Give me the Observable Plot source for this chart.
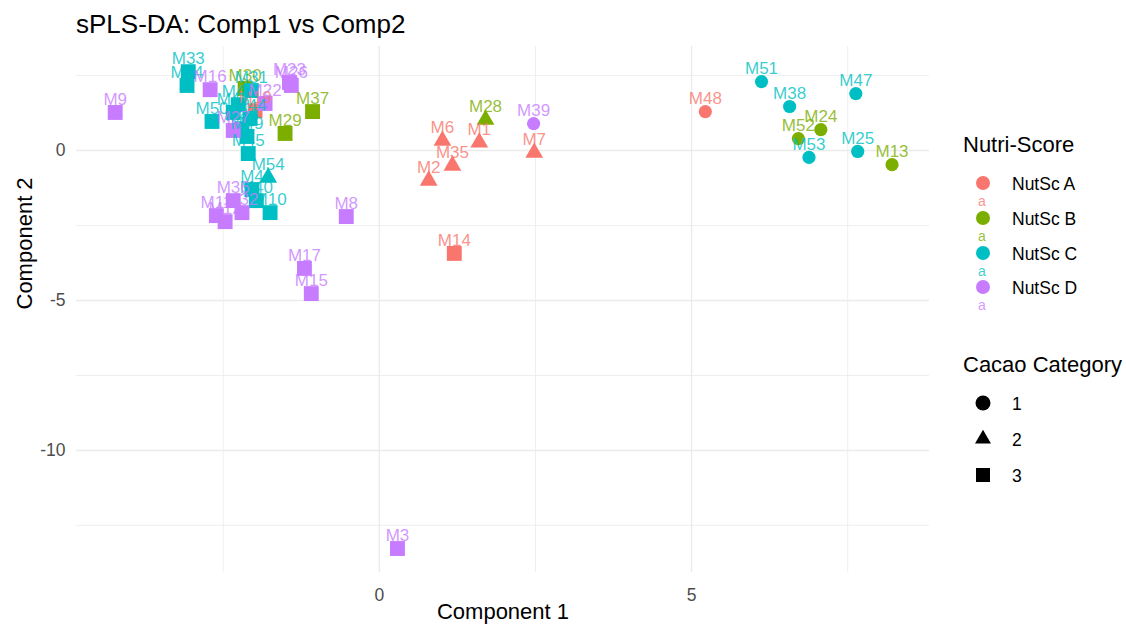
<!DOCTYPE html>
<html>
<head>
<meta charset="utf-8">
<script src="https://cdn.jsdelivr.net/npm/d3@7"></script>
<script src="https://cdn.jsdelivr.net/npm/@observablehq/plot@0.6"></script>
<style>
  body { margin: 0; background: #fff; font-family: "Liberation Sans", Arial, sans-serif; }
  #wrap { position: relative; width: 1126px; height: 627px; overflow: hidden; background: #fff; }
  #chart { position: absolute; left: 0; top: 0; }
  #title { position: absolute; left: 76px; top: 9px; font-size: 26px; line-height: 30px; color: #000; white-space: nowrap; }
  .lg { position: absolute; white-space: nowrap; color: #000; }
  .lgTitle { font-size: 22px; line-height: 22px; }
  .lgLab { font-size: 17.5px; line-height: 18px; }
  .lgA { font-size: 14px; line-height: 14px; }
</style>
</head>
<body>
<div id="wrap">
  <div id="chart"></div>
  <div id="title">sPLS-DA: Comp1 vs Comp2</div>
</div>
<script>
// ---- data ----
const sampleNames = ["M48","M6","M1","M35","M2","M7","M14","M19",
  "M28","M37","M29","M30","M24","M52","M13",
  "M51","M38","M47","M53","M25","M33","M34","M50","M31","M41","M43","M44","M46","M49","M45","M54","M4","M40","M10",
  "M9","M3","M8","M17","M15","M39","M16","M23","M26","M27","M22","M11","M12","M36","M32"];
const comp1 = [5.22,1.01,1.60,1.17,0.79,2.48,1.20,-1.99,
  1.70,-1.07,-1.51,-2.15,7.07,6.71,8.21,
  6.12,6.57,7.63,6.88,7.66,-3.06,-3.08,-2.68,-2.05,-2.26,-2.34,-2.07,-2.20,-2.12,-2.10,-1.78,-2.04,-1.97,-1.75,
  -4.23,0.29,-0.53,-1.20,-1.09,2.47,-2.71,-1.44,-1.41,-2.34,-1.83,-2.61,-2.47,-2.34,-2.20];
const comp2 = [1.30,0.33,0.27,-0.50,-1.00,-0.07,-3.43,1.33,
  1.03,1.30,0.57,2.07,0.70,0.40,-0.47,
  2.30,1.47,1.90,-0.23,-0.03,2.63,2.17,0.97,2.00,1.53,1.27,1.07,0.73,0.47,-0.10,-0.90,-1.30,-1.67,-2.07,
  1.27,-13.27,-2.20,-3.93,-4.77,0.90,2.03,2.27,2.17,0.67,1.57,-2.17,-2.37,-1.67,-2.07];
const nutriScore = ["NutSc A","NutSc A","NutSc A","NutSc A","NutSc A","NutSc A","NutSc A","NutSc A",
  "NutSc B","NutSc B","NutSc B","NutSc B","NutSc B","NutSc B","NutSc B",
  "NutSc C","NutSc C","NutSc C","NutSc C","NutSc C","NutSc C","NutSc C","NutSc C","NutSc C","NutSc C","NutSc C","NutSc C","NutSc C","NutSc C","NutSc C","NutSc C","NutSc C","NutSc C","NutSc C",
  "NutSc D","NutSc D","NutSc D","NutSc D","NutSc D","NutSc D","NutSc D","NutSc D","NutSc D","NutSc D","NutSc D","NutSc D","NutSc D","NutSc D","NutSc D"];
const cacaoCategory = [1,2,2,2,2,2,3,3,
  2,3,3,3,1,1,1,
  1,1,1,1,1,3,3,3,3,3,3,3,3,3,3,2,3,3,3,
  3,3,3,3,3,1,3,3,3,3,3,3,3,3,3];

const nutriLevels = ["NutSc A","NutSc B","NutSc C","NutSc D"];
const nutriColors = ["#F8766D","#7CAE00","#00BFC4","#C77CFF"];
const cacaoLevels = [1,2,3];
const cacaoShapes = ["circle","triangle","square"];
const cacaoRadius = [6.6,6.6,8.4];

const xTicks = [0,5];
const yTicks = [0,-5,-10];
const xMinor = [-2.5,2.5,7.5];
const yMinor = [2.5,-2.5,-7.5,-12.5];

// ---- table ----
const data = sampleNames.map((n,i) => ({name:n, c1:comp1[i], c2:comp2[i], nutri:nutriScore[i], cacao:cacaoCategory[i]}));

const font = "Liberation Sans, Arial, sans-serif";
const grid = "#EBEBEB";

const dotMarks = cacaoLevels.map((lev,k) =>
  Plot.dot(data.filter(d => d.cacao === lev), {
    x:"c1", y:"c2", fill:"nutri", symbol: cacaoShapes[k], r: cacaoRadius[k], stroke:"none"
  })
);

const chart = Plot.plot({
  width: 1126,
  height: 627,
  marginLeft: 76,
  marginRight: 197,
  marginTop: 46,
  marginBottom: 55,
  style: {fontFamily: font, background: "transparent", overflow: "visible"},
  x: {domain: [-4.85, 8.81], label: null},
  y: {domain: [-14.07, 3.47], label: null},
  color: {domain: nutriLevels, range: nutriColors},
  marks: [
    Plot.ruleX(xMinor, {stroke: grid, strokeWidth: 0.8}),
    Plot.ruleY(yMinor, {stroke: grid, strokeWidth: 0.8}),
    Plot.ruleX(xTicks, {stroke: grid, strokeWidth: 1.4}),
    Plot.ruleY(yTicks, {stroke: grid, strokeWidth: 1.4}),
    ...dotMarks,
    Plot.text(data, {x:"c1", y:"c2", text:"name", fill:"nutri", dy:-13, fontSize:17, fillOpacity:0.8}),
    Plot.axisX({ticks: xTicks, tickSize: 0, tickPadding: 16, fontSize: 17.5, color: "#4D4D4D", label: null, tickFormat: d => String(d)}),
    Plot.axisY({ticks: yTicks, tickSize: 0, tickPadding: 11, fontSize: 17.5, color: "#4D4D4D", label: null, tickFormat: d => String(d)}),
    Plot.text(["Component 1"], {text: d => d, frameAnchor: "bottom", dy: 46, fontSize: 22, fill: "#000"}),
    Plot.text(["Component 2"], {text: d => d, frameAnchor: "left", dx: -52, rotate: -90, fontSize: 22, fill: "#000"})
  ]
});
document.getElementById("chart").appendChild(chart);

// ---- legends (HTML, built from the level arrays) ----
const wrap = document.getElementById("wrap");
function addDiv(cls, text, left, centerY, h, color) {
  const el = document.createElement("div");
  el.className = "lg " + cls;
  el.textContent = text;
  el.style.left = left + "px";
  el.style.top = (centerY - h/2) + "px";
  if (color) el.style.color = color;
  wrap.appendChild(el);
  return el;
}
function addSymbol(type, size, color, cx, cy) {
  const s = 24;
  const svg = d3.create("svg").attr("width", s).attr("height", s)
    .style("position","absolute").style("left",(cx - s/2)+"px").style("top",(cy - s/2)+"px");
  const sym = {circle: d3.symbolCircle, triangle: d3.symbolTriangle, square: d3.symbolSquare}[type];
  svg.append("path").attr("transform", `translate(${s/2},${s/2})`)
    .attr("d", d3.symbol(sym, size)()).attr("fill", color);
  wrap.appendChild(svg.node());
}

addDiv("lgTitle", "Nutri-Score", 963, 145, 22);
nutriLevels.forEach((lev,i) => {
  const cy = 183 + i*34.8;
  addSymbol("circle", Math.PI*7*7, nutriColors[i], 983, cy);
  addDiv("lgA", "a", 978, cy + 18, 14, nutriColors[i]).style.opacity = 0.75;
  addDiv("lgLab", lev, 1012, cy + 1, 18);
});

addDiv("lgTitle", "Cacao Category", 963, 365, 22);
cacaoLevels.forEach((lev,i) => {
  const cy = 403 + i*36;
  const size = cacaoShapes[i] === "square" ? 14*14 : (cacaoShapes[i] === "triangle" ? 110 : Math.PI*7.5*7.5);
  addSymbol(cacaoShapes[i], size, "#000", 983, cy);
  addDiv("lgLab", String(lev), 1012, cy + 1, 18);
});
</script>
</body>
</html>
